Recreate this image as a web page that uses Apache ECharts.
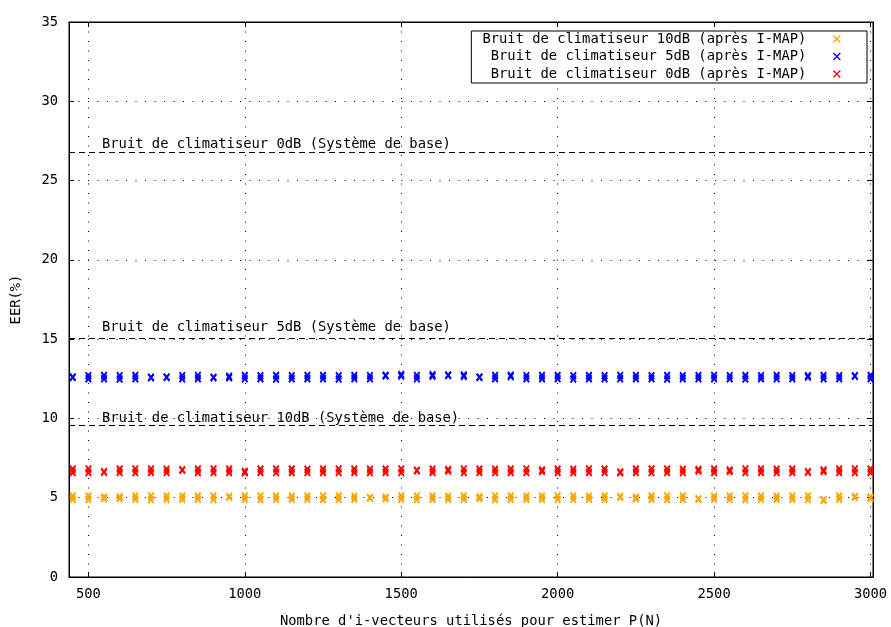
<!DOCTYPE html>
<html>
<head>
<meta charset="utf-8">
<script src="https://cdn.jsdelivr.net/npm/echarts@6/dist/echarts.min.js"></script>
<style>
  html, body { margin: 0; padding: 0; background: #ffffff; }
  #chart { width: 891px; height: 627px; }
</style>
</head>
<body>
<div id="chart"></div>
<script>
// Nombre d'i-vecteurs utilisés (axe des abscisses)
const nombreIVecteurs = [
  450, 500, 550, 600, 650, 700, 750, 800, 850, 900,
  950, 1000, 1050, 1100, 1150, 1200, 1250, 1300, 1350, 1400,
  1450, 1500, 1550, 1600, 1650, 1700, 1750, 1800, 1850, 1900,
  1950, 2000, 2050, 2100, 2150, 2200, 2250, 2300, 2350, 2400,
  2450, 2500, 2550, 2600, 2650, 2700, 2750, 2800, 2850, 2900,
  2950, 3000
];

// EER (%) après I-MAP, deux essais par valeur de N
const eer10dB_essai1 = [
  5.10, 5.10, 5.04, 5.05, 5.10, 5.11, 5.10, 5.09, 5.10, 5.11,
  5.05, 5.10, 5.11, 5.10, 5.09, 5.10, 5.11, 5.10, 5.09, 5.00,
  5.03, 5.10, 5.11, 5.10, 5.09, 5.10, 5.05, 5.11, 5.10, 5.09,
  5.10, 5.11, 5.10, 5.09, 5.10, 5.05, 5.03, 5.10, 5.11, 5.10,
  4.92, 5.09, 5.10, 5.11, 5.10, 5.09, 5.10, 5.11, 4.85, 5.10,
  5.05, 5.04
];
const eer10dB_essai2 = [
  4.90, 4.89, 4.96, 4.96, 4.90, 4.89, 4.90, 4.91, 4.90, 4.89,
  5.05, 4.90, 4.89, 4.90, 4.91, 4.90, 4.89, 4.90, 4.91, 5.00,
  4.94, 4.90, 4.89, 4.90, 4.91, 4.90, 4.96, 4.89, 4.90, 4.91,
  4.90, 4.89, 4.90, 4.91, 4.90, 5.05, 4.94, 4.90, 4.89, 4.90,
  4.92, 4.91, 4.90, 4.89, 4.90, 4.91, 4.90, 4.89, 4.85, 4.90,
  5.05, 4.95
];

const eer5dB_essai1 = [
  12.60, 12.69, 12.70, 12.69, 12.70, 12.58, 12.60, 12.69, 12.71, 12.58,
  12.65, 12.70, 12.69, 12.70, 12.69, 12.71, 12.70, 12.69, 12.70, 12.69,
  12.70, 12.76, 12.70, 12.75, 12.72, 12.73, 12.60, 12.70, 12.72, 12.69,
  12.70, 12.70, 12.69, 12.70, 12.69, 12.71, 12.70, 12.69, 12.70, 12.69,
  12.70, 12.71, 12.69, 12.70, 12.69, 12.70, 12.69, 12.69, 12.70, 12.69,
  12.68, 12.70
];
const eer5dB_essai2 = [
  12.60, 12.50, 12.50, 12.49, 12.50, 12.58, 12.60, 12.50, 12.51, 12.58,
  12.57, 12.50, 12.51, 12.49, 12.50, 12.51, 12.50, 12.49, 12.51, 12.50,
  12.70, 12.68, 12.50, 12.67, 12.72, 12.65, 12.60, 12.51, 12.64, 12.50,
  12.51, 12.50, 12.49, 12.51, 12.50, 12.50, 12.51, 12.50, 12.49, 12.51,
  12.50, 12.51, 12.50, 12.49, 12.51, 12.50, 12.51, 12.61, 12.50, 12.51,
  12.68, 12.50
];

const eer0dB_essai1 = [
  6.80, 6.81, 6.62, 6.80, 6.81, 6.80, 6.79, 6.75, 6.80, 6.81,
  6.80, 6.65, 6.80, 6.81, 6.80, 6.79, 6.80, 6.81, 6.80, 6.79,
  6.80, 6.81, 6.72, 6.80, 6.77, 6.81, 6.80, 6.79, 6.80, 6.81,
  6.75, 6.80, 6.79, 6.81, 6.80, 6.60, 6.80, 6.81, 6.80, 6.79,
  6.77, 6.80, 6.75, 6.81, 6.80, 6.79, 6.80, 6.62, 6.75, 6.80,
  6.81, 6.80
];
const eer0dB_essai2 = [
  6.60, 6.59, 6.62, 6.60, 6.59, 6.60, 6.59, 6.75, 6.60, 6.59,
  6.60, 6.58, 6.60, 6.59, 6.60, 6.59, 6.60, 6.59, 6.60, 6.59,
  6.60, 6.59, 6.72, 6.60, 6.68, 6.59, 6.60, 6.59, 6.60, 6.59,
  6.66, 6.60, 6.59, 6.60, 6.59, 6.60, 6.60, 6.59, 6.60, 6.59,
  6.68, 6.60, 6.66, 6.59, 6.60, 6.59, 6.60, 6.62, 6.66, 6.60,
  6.59, 6.60
];

// Noms des séries (légende)
const nomsSeries = [
  'Bruit de climatiseur 10dB (après I-MAP)',
  'Bruit de climatiseur 5dB (après I-MAP)',
  'Bruit de climatiseur 0dB (après I-MAP)'
];

// EER du système de base (lignes horizontales)
const eerBase = [26.8, 15.05, 9.55];
const nomsBase = [
  'Bruit de climatiseur 0dB (Système de base)',
  'Bruit de climatiseur 5dB (Système de base)',
  'Bruit de climatiseur 10dB (Système de base)'
];

// Graduations
const ticksX = [500, 1000, 1500, 2000, 2500, 3000];

const POLICE = 'DejaVu Sans Mono';
const TAILLE = 13.8;
const CROIX = 'path://M0,0L10,10M10,0L0,10';
const couleurs = ['#ffa500', '#0000ff', '#ff0000'];

function points(xs, essais) {
  const out = [];
  essais.forEach(function (essai) {
    essai.forEach(function (v, i) { out.push([xs[i], v]); });
  });
  return out;
}

const essaisParSerie = [
  [eer10dB_essai1, eer10dB_essai2],
  [eer5dB_essai1, eer5dB_essai2],
  [eer0dB_essai1, eer0dB_essai2]
];

const series = nomsSeries.map(function (nom, k) {
  return {
    name: nom,
    type: 'scatter',
    data: points(nombreIVecteurs, essaisParSerie[k]),
    symbol: CROIX,
    symbolSize: [5.5, 7],
    itemStyle: { color: couleurs[k], borderColor: couleurs[k], borderWidth: 2, opacity: 1 },
    emphasis: { disabled: true },
    animation: false
  };
});

// Élévation du texte de chaque ligne de base au-dessus du trait
const elevation = [0.5, 3.5, 0.5];

series.push({
  name: 'base',
  type: 'line',
  data: [],
  animation: false,
  markLine: {
    silent: true,
    symbol: ['none', 'none'],
    animation: false,
    lineStyle: { color: '#000', width: 1, type: [6, 4] },
    label: {
      show: true,
      position: 'insideStartTop',
      color: '#000',
      fontFamily: POLICE,
      fontSize: TAILLE
    },
    data: eerBase.map(function (v, i) {
      return {
        yAxis: v,
        label: { formatter: nomsBase[i], distance: [33, elevation[i]] }
      };
    })
  }
});

const texte = { color: '#000', fontFamily: POLICE, fontSize: TAILLE };
const pointille = { color: '#000', width: 1, type: [1, 8.5] };
const trait = { color: '#000', width: 1 };
const brut = function (v) { return String(v); };

const chart = echarts.init(document.getElementById('chart'), null, { renderer: 'canvas' });
chart.setOption({
  animation: false,
  backgroundColor: '#ffffff',
  grid: {
    left: 69, right: 18, top: 22, bottom: 50,
    outerBoundsMode: 'none',
    containLabel: false,
    show: true, borderColor: '#000', borderWidth: 1, backgroundColor: 'transparent'
  },
  legend: {
    data: nomsSeries,
    orient: 'vertical',
    right: 24,
    top: 31,
    align: 'right',
    itemWidth: 7,
    itemHeight: 7,
    itemGap: 3.5,
    padding: [1, 26, 2, 5],
    borderColor: '#000',
    borderWidth: 1,
    borderRadius: 0,
    backgroundColor: '#ffffff',
    selectedMode: false,
    itemStyle: { borderWidth: 1.3 },
    formatter: function (n) { return '{t|' + n + '}'; },
    textStyle: {
      rich: {
        t: {
          width: 330, align: 'right', lineHeight: 14,
          color: '#000', fontFamily: POLICE, fontSize: TAILLE,
          padding: [0, 22, 0, 0]
        }
      }
    }
  },
  xAxis: [{
    type: 'value',
    min: 438, max: 3008,
    name: "Nombre d'i-vecteurs utilisés pour estimer P(N)",
    nameLocation: 'middle',
    nameGap: 37,
    nameTextStyle: texte,
    axisLine: { show: true, onZero: false, lineStyle: trait },
    axisTick: { show: true, inside: true, length: 5, customValues: ticksX, lineStyle: trait },
    axisLabel: Object.assign({ customValues: ticksX, margin: 10, formatter: brut }, texte),
    splitLine: { show: true, lineStyle: pointille }
  }, {
    type: 'value',
    position: 'top',
    min: 438, max: 3008,
    axisLine: { show: true, onZero: false, lineStyle: trait },
    axisTick: { show: true, inside: true, length: 5, customValues: ticksX, lineStyle: trait },
    axisLabel: { show: false },
    splitLine: { show: false }
  }],
  yAxis: [{
    type: 'value',
    min: 0, max: 35, interval: 5,
    name: 'EER(%)',
    nameLocation: 'middle',
    nameGap: 46,
    nameTextStyle: texte,
    axisLine: { show: true, onZero: false, lineStyle: trait },
    axisTick: { show: true, inside: true, length: 5, lineStyle: trait },
    axisLabel: Object.assign({ margin: 11, formatter: brut }, texte),
    splitLine: { show: true, lineStyle: pointille }
  }, {
    type: 'value',
    position: 'right',
    min: 0, max: 35, interval: 5,
    axisLine: { show: true, onZero: false, lineStyle: trait },
    axisTick: { show: true, inside: true, length: 5, lineStyle: trait },
    axisLabel: { show: false },
    splitLine: { show: false }
  }],
  series: series
});
</script>
</body>
</html>
